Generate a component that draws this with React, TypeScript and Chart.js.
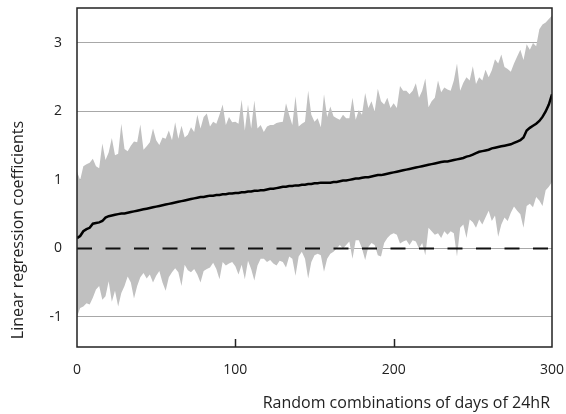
import React, { useEffect, useRef } from "react";
import { Chart, registerables } from "chart.js";

Chart.register(...registerables);

const X_TICKS = [0, 100, 200, 300];
const Y_TICKS = [-1, 0, 1, 2, 3];

const MEAN = [
  0.15, 0.18, 0.25, 0.28, 0.3, 0.36, 0.37, 0.38, 0.4, 0.45,
  0.47, 0.48, 0.49, 0.5, 0.51, 0.51, 0.52, 0.53, 0.54, 0.55,
  0.56, 0.57, 0.58, 0.59, 0.6, 0.61, 0.62, 0.63, 0.64, 0.65,
  0.66, 0.67, 0.68, 0.69, 0.7, 0.71, 0.72, 0.73, 0.74, 0.75,
  0.75, 0.76, 0.77, 0.77, 0.78, 0.78, 0.79, 0.79, 0.8, 0.8,
  0.81, 0.81, 0.82, 0.82, 0.83, 0.83, 0.84, 0.84, 0.85, 0.85,
  0.86, 0.87, 0.87, 0.88, 0.89, 0.9, 0.9, 0.91, 0.91, 0.92,
  0.92, 0.93, 0.93, 0.94, 0.94, 0.95, 0.95, 0.96, 0.96, 0.96,
  0.96, 0.97, 0.97, 0.98, 0.99, 0.99, 1.0, 1.01, 1.02, 1.02,
  1.03, 1.04, 1.04, 1.05, 1.06, 1.07, 1.07, 1.08, 1.09, 1.1,
  1.11, 1.12, 1.13, 1.14, 1.15, 1.16, 1.17, 1.18, 1.19, 1.2,
  1.21, 1.22, 1.23, 1.24, 1.25, 1.26, 1.27, 1.27, 1.28, 1.29,
  1.3, 1.31, 1.32, 1.34, 1.35, 1.37, 1.39, 1.41, 1.42, 1.43,
  1.44, 1.46, 1.47, 1.48, 1.49, 1.5, 1.51, 1.52, 1.54, 1.56,
  1.58, 1.62, 1.72, 1.76, 1.79, 1.82, 1.86, 1.92, 2.0, 2.1,
  2.25,
];

const UPPER = [
  1.12, 1.0, 1.2, 1.23, 1.25, 1.31, 1.2, 1.17, 1.53, 1.29,
  1.4, 1.61, 1.36, 1.38, 1.82, 1.45, 1.42, 1.5, 1.56, 1.55,
  1.81, 1.44, 1.49, 1.55, 1.75, 1.58, 1.51, 1.62, 1.6, 1.72,
  1.58, 1.84, 1.6, 1.79, 1.62, 1.66, 1.77, 1.7, 1.95, 1.75,
  1.92, 1.97, 1.78, 1.85, 1.82, 1.95, 2.1, 1.8, 1.92, 1.84,
  1.85, 1.82, 2.17, 1.72, 2.1, 1.75, 2.16, 1.75, 1.8, 1.7,
  1.78, 1.8, 1.8, 1.83, 1.84, 1.85, 2.12, 1.95, 1.8, 2.22,
  1.78, 1.82, 1.85, 2.3, 1.95, 1.85, 1.9, 1.77, 2.25, 1.92,
  2.07, 1.93, 1.9, 1.88, 1.95, 1.9, 1.9, 2.2, 1.88, 2.02,
  1.95, 2.27, 2.05, 2.15, 2.0, 2.33, 2.15, 2.1, 2.2, 2.05,
  2.12, 2.05, 2.37, 2.3, 2.3, 2.25, 2.3, 2.41, 2.2, 2.3,
  2.48, 2.06, 2.15, 2.2, 2.45, 2.28, 2.35, 2.32, 2.3, 2.45,
  2.7, 2.3, 2.42, 2.5, 2.45, 2.66, 2.4, 2.5, 2.45, 2.61,
  2.5, 2.6, 2.76, 2.7, 2.83, 2.65, 2.62, 2.58, 2.7, 2.8,
  2.9, 2.75, 2.98, 2.9, 3.0, 2.95, 3.2, 3.27, 3.3, 3.35,
  3.4,
];

const LOWER = [
  -1.0, -0.87, -0.85, -0.8, -0.82, -0.72, -0.6, -0.55, -0.75, -0.7,
  -0.48, -0.78, -0.62, -0.85, -0.65, -0.55, -0.41, -0.5, -0.73, -0.55,
  -0.42, -0.36, -0.44, -0.38, -0.5, -0.4, -0.33, -0.5, -0.62, -0.42,
  -0.35, -0.29, -0.35, -0.55, -0.24, -0.32, -0.35, -0.3, -0.38, -0.5,
  -0.33, -0.3, -0.28, -0.21, -0.3, -0.45, -0.2, -0.25, -0.22, -0.2,
  -0.26, -0.38, -0.24, -0.45, -0.18, -0.3, -0.47, -0.25, -0.15, -0.15,
  -0.2, -0.17, -0.22, -0.25, -0.18, -0.2, -0.28, -0.12, -0.15, -0.4,
  -0.12, -0.05, -0.15, -0.44, -0.2, -0.1, -0.08, -0.1, -0.34, -0.15,
  -0.08, -0.05, 0.0, 0.05, 0.0, 0.05, 0.1, -0.15, 0.12, 0.12,
  0.0, -0.17, 0.02, 0.08, 0.05, -0.1, -0.12, 0.08, 0.15, 0.2,
  0.22, 0.2, 0.07, 0.1, 0.12, 0.05, 0.12, 0.1, 0.0, 0.08,
  -0.1, 0.3, 0.25, 0.2, 0.22, 0.15, 0.25, 0.2, 0.25, 0.22,
  -0.12, 0.3, 0.35, 0.15, 0.42, 0.38, 0.3, 0.42, 0.35, 0.45,
  0.55, 0.4, 0.48, 0.17, 0.35, 0.45, 0.4, 0.52, 0.61, 0.55,
  0.5, 0.3, 0.62, 0.65, 0.6, 0.75, 0.7, 0.62, 0.85, 0.9,
  0.97,
];

const X_VALUES = UPPER.map((_, i) => i * 2);

const FONT = "'Open Sans', 'Noto Sans', sans-serif";

const framePlugin = {
  id: "frame",
  afterDatasetsDraw(chart: any) {
    const { ctx, chartArea } = chart;
    const xs = chart.scales.x;
    ctx.save();
    ctx.strokeStyle = "#222";
    ctx.lineWidth = 1.5;
    ctx.strokeRect(chartArea.left, chartArea.top, chartArea.right - chartArea.left, chartArea.bottom - chartArea.top);
    [100, 200].forEach((v) => {
      const px = Math.round(xs.getPixelForValue(v)) + 0.5;
      ctx.beginPath();
      ctx.moveTo(px, chartArea.bottom);
      ctx.lineTo(px, chartArea.bottom - 8);
      ctx.stroke();
    });
    ctx.fillStyle = "#222";
    ctx.font = `16px ${FONT}`;
    ctx.textAlign = "right";
    ctx.textBaseline = "middle";
    ctx.fillText("Random combinations of days of 24hR", 550, 403);
    ctx.translate(18, 230);
    ctx.rotate(-Math.PI / 2);
    ctx.textAlign = "center";
    ctx.fillText("Linear regression coefficients", 0, 0);
    ctx.restore();
  },
};

const noPad = (s: any) => {
  s.paddingTop = 0;
  s.paddingBottom = 0;
  s.paddingLeft = 0;
  s.paddingRight = 0;
};

export default function App() {
  const ref = useRef<HTMLCanvasElement>(null);
  useEffect(() => {
    document.body.style.margin = "0";
    const canvas = ref.current!;
    const chart = new Chart(canvas, {
      type: "line",
      data: {
        datasets: [
          {
            data: X_VALUES.map((x, i) => ({ x, y: LOWER[i] })),
            borderWidth: 0,
            pointRadius: 0,
            fill: false,
            order: 3,
          },
          {
            data: X_VALUES.map((x, i) => ({ x, y: UPPER[i] })),
            borderWidth: 0,
            pointRadius: 0,
            backgroundColor: "#c0c0c0",
            fill: "-1",
            order: 2,
          },
          {
            data: [{ x: 0, y: 0 }, { x: 300, y: 0 }],
            borderColor: "#111",
            borderWidth: 2,
            borderDash: [15, 13.5],
            pointRadius: 0,
            fill: false,
            order: 1,
          },
          {
            data: X_VALUES.map((x, i) => ({ x, y: MEAN[i] })),
            borderColor: "#000",
            borderWidth: 2.5,
            pointRadius: 0,
            fill: false,
            order: 0,
          },
        ],
      },
      options: {
        responsive: false,
        animation: false,
        devicePixelRatio: 1,
        layout: { padding: { top: 8, right: 14, left: 0, bottom: 0 } },
        plugins: { legend: { display: false }, tooltip: { enabled: false }, title: { display: false } },
        elements: { line: { tension: 0 } },
        scales: {
          x: {
            type: "linear",
            min: 0,
            max: 300,
            afterBuildTicks: (s: any) => { s.ticks = X_TICKS.map((v) => ({ value: v })); },
            afterFit: (s: any) => { s.height = 67; noPad(s); },
            grid: { display: false, drawTicks: false },
            border: { display: false },
            ticks: { padding: 15, color: "#222", font: { family: FONT, size: 14 }, maxRotation: 0 },
          },
          y: {
            type: "linear",
            min: -1.44,
            max: 3.51,
            afterBuildTicks: (s: any) => { s.ticks = Y_TICKS.map((v) => ({ value: v })); },
            afterFit: (s: any) => { s.width = 77; noPad(s); },
            grid: { color: "#a8a8a8", lineWidth: 1, drawTicks: false },
            border: { display: false },
            ticks: { padding: 15, color: "#222", font: { family: FONT, size: 14 } },
          },
        },
      },
      plugins: [framePlugin],
    });
    return () => chart.destroy();
  }, []);
  return <canvas ref={ref} width={566} height={414} style={{ display: "block" }} />;
}
